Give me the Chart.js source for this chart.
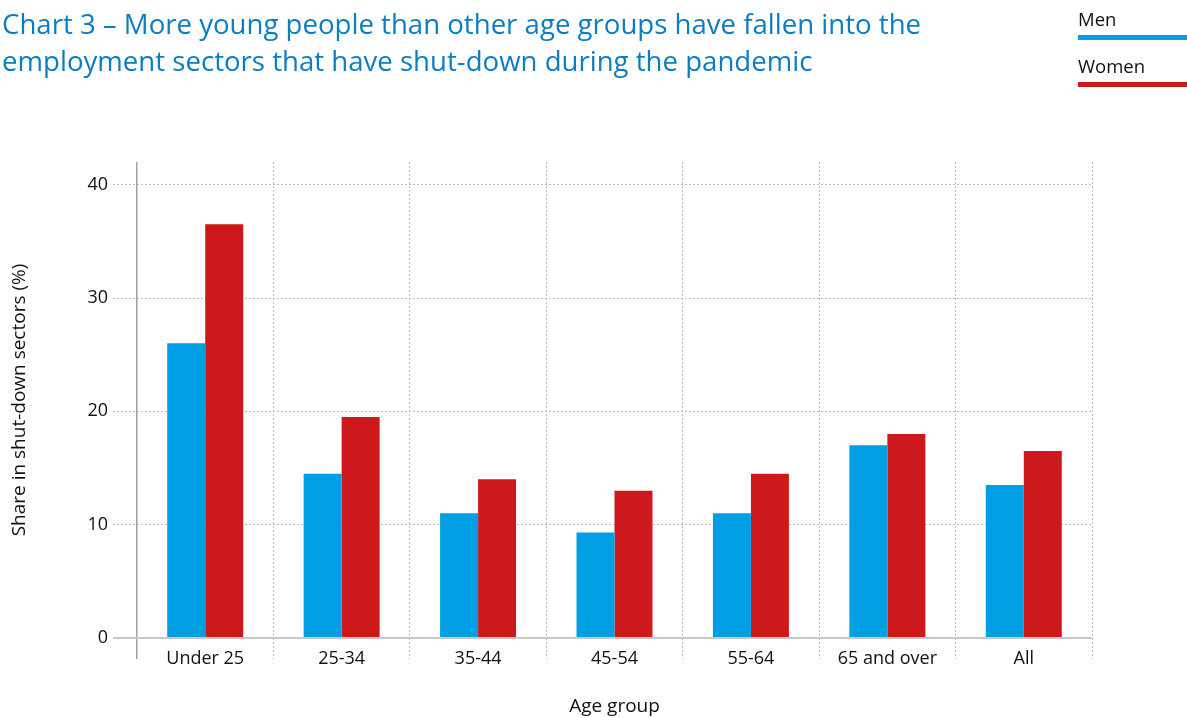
<!DOCTYPE html>
<html>
<head>
<meta charset="utf-8">
<script src="https://cdn.jsdelivr.net/npm/chart.js@4/dist/chart.umd.min.js"></script>
<style>
    body { margin: 0; background: #fff; font-family: 'Open Sans', sans-serif; }
    #wrap { position: relative; width: 1187px; height: 718px; overflow: hidden; }
    #chart { position: absolute; left: 0; top: 0; }
    #title { position: absolute; left: 2px; top: 5px; color: #0b7dc1; font-size: 27.6px; line-height: 37px; }
    #legend { position: absolute; left: 1078px; top: 6px; width: 109px; }
    .key { font-size: 18.5px; color: #111; height: 47px; }
    .key span { display: block; height: 25px; line-height: 25px; }
    .key i { display: block; height: 5px; margin-top: 4px; }
</style>
</head>
<body>
<div id="wrap">
    <canvas id="chart" width="1187" height="718"></canvas>
    <div id="title">Chart 3 – More young people than other age groups have fallen into the<br>employment sectors that have shut-down during the pandemic</div>
    <div id="legend"></div>
</div>
<script>
const ageGroups = ['Under 25', '25-34', '35-44', '45-54', '55-64', '65 and over', 'All'];
const menShare = [26, 14.5, 11, 9.3, 11, 17, 13.5];
const womenShare = [36.5, 19.5, 14, 13, 14.5, 18, 16.5];
const yTicks = [0, 10, 20, 30, 40];

const BLUE = '#009fe3';
const RED = '#cd181c';

document.addEventListener('DOMContentLoaded', function() {
    const series = [
        { label: 'Men', data: menShare, color: BLUE },
        { label: 'Women', data: womenShare, color: RED }
    ];

    // legend built from the series
    const legend = document.getElementById('legend');
    series.forEach(s => {
        const key = document.createElement('div');
        key.className = 'key';
        key.innerHTML = '<span>' + s.label + '</span><i style="background:' + s.color + '"></i>';
        legend.appendChild(key);
    });

    const ctx = document.getElementById('chart').getContext('2d');
    new Chart(ctx, {
        type: 'bar',
        data: {
            labels: ageGroups,
            datasets: series.map(s => ({
                label: s.label,
                data: s.data,
                backgroundColor: s.color,
                borderWidth: 0,
                categoryPercentage: 0.557,
                barPercentage: 1
            }))
        },
        options: {
            responsive: false,
            animation: false,
            layout: { padding: { top: 162, right: 95, left: 0, bottom: 0 } },
            plugins: {
                legend: { display: false },
                tooltip: { enabled: false }
            },
            scales: {
                x: {
                    afterFit: scale => { scale.height = 80; },
                    border: {
                        display: false,
                        dash: c => c.index === 0 ? [] : [2, 2]
                    },
                    grid: {
                        offset: true,
                        color: c => c.index === 0 ? '#a0a0a0' : '#bdbdbd',
                        lineWidth: c => c.index === 0 ? 1.5 : 1,
                        tickLength: 21,
                        tickBorderDash: c => c.index === 0 ? [] : [2, 2]
                    },
                    ticks: {
                        color: '#111',
                        font: { family: 'Open Sans', size: 18 },
                        padding: -11,
                        maxRotation: 0
                    },
                    title: {
                        display: true,
                        text: 'Age group',
                        color: '#111',
                        font: { family: 'Open Sans', size: 19 },
                        padding: { top: 0, bottom: 0 }
                    }
                },
                y: {
                    min: 0,
                    max: 42,
                    afterFit: scale => { scale.width = 137; },
                    afterBuildTicks: scale => {
                        scale.ticks = yTicks.map(v => ({ value: v }));
                    },
                    border: {
                        display: false,
                        dash: c => c.index === 0 ? [] : [2, 2]
                    },
                    grid: {
                        color: c => c.index === 0 ? '#c8c8c8' : '#bdbdbd',
                        lineWidth: c => c.index === 0 ? 2 : 1,
                        tickLength: 24,
                        tickBorderDash: c => c.index === 0 ? [] : [2, 2]
                    },
                    ticks: {
                        color: '#111',
                        font: { family: 'Open Sans', size: 18 },
                        padding: 5
                    },
                    title: {
                        display: true,
                        text: 'Share in shut-down sectors (%)',
                        color: '#111',
                        font: { family: 'Open Sans', size: 19 },
                        padding: { top: 8, bottom: 0 }
                    }
                }
            }
        }
    });
});
</script>
</body>
</html>
